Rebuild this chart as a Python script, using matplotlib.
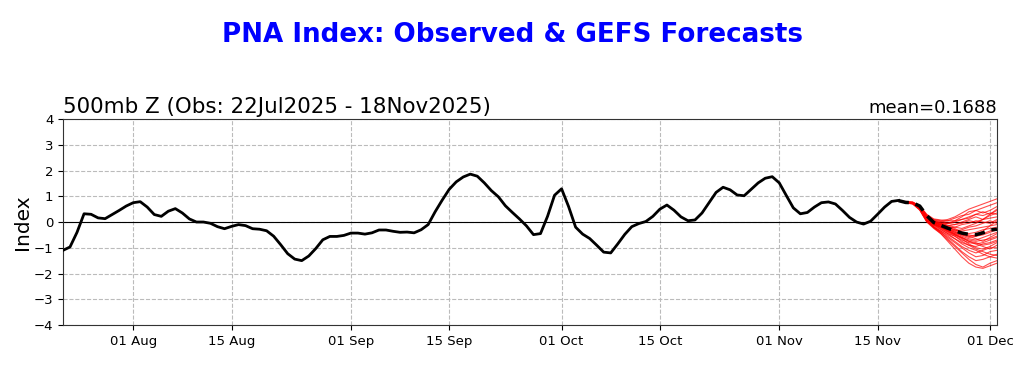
import numpy as np
import pandas as pd
import matplotlib
matplotlib.use("Agg")
import matplotlib.pyplot as plt
import matplotlib.dates as mdates

# ---- data ----
obs_start = "2025-07-22"
obs_values = [
    -1.10, -0.97, -0.40, 0.32, 0.30, 0.16, 0.13, 0.29, 0.45, 0.62,
    0.75, 0.79, 0.58, 0.29, 0.22, 0.42, 0.52, 0.35, 0.12, 0.00,
    0.00, -0.05, -0.18, -0.26, -0.17, -0.10, -0.14, -0.26, -0.28, -0.34,
    -0.55, -0.88, -1.23, -1.44, -1.50, -1.32, -1.03, -0.69, -0.56, -0.56,
    -0.52, -0.43, -0.43, -0.47, -0.42, -0.31, -0.31, -0.36, -0.40, -0.39,
    -0.42, -0.30, -0.10, 0.40, 0.85, 1.27, 1.56, 1.75, 1.86, 1.78,
    1.52, 1.22, 0.98, 0.63, 0.37, 0.12, -0.15, -0.49, -0.45, 0.22,
    1.04, 1.29, 0.60, -0.20, -0.47, -0.64, -0.90, -1.17, -1.20, -0.85,
    -0.48, -0.18, -0.06, 0.02, 0.22, 0.50, 0.66, 0.46, 0.20, 0.05,
    0.08, 0.35, 0.75, 1.15, 1.35, 1.25, 1.05, 1.02, 1.27, 1.52,
    1.70, 1.76, 1.52, 1.03, 0.55, 0.32, 0.37, 0.58, 0.75, 0.78,
    0.70, 0.45, 0.18, 0.00, -0.08, 0.03, 0.30, 0.58, 0.80, 0.84,
]

fc_start = "2025-11-18"
fc_mean = [0.83, 0.76, 0.75, 0.62, 0.25, -0.02, -0.13, -0.24, -0.34, -0.43,
           -0.48, -0.49, -0.42, -0.31, -0.28]

members = [
    [0.83, 0.80, 0.78, 0.62, 0.25, 0.10, 0.05, 0.10, 0.20, 0.35, 0.50, 0.60, 0.70, 0.80, 0.90],
    [0.83, 0.78, 0.76, 0.60, 0.20, 0.05, 0.00, 0.05, 0.15, 0.25, 0.30, 0.45, 0.55, 0.65, 0.75],
    [0.83, 0.77, 0.75, 0.58, 0.22, 0.00, -0.05, -0.05, 0.05, 0.20, 0.40, 0.45, 0.35, 0.45, 0.60],
    [0.83, 0.76, 0.74, 0.55, 0.18, -0.02, -0.10, -0.05, 0.00, 0.10, 0.15, 0.30, 0.40, 0.30, 0.45],
    [0.83, 0.76, 0.73, 0.57, 0.15, -0.05, -0.12, -0.15, -0.10, 0.00, 0.10, 0.20, 0.10, 0.25, 0.35],
    [0.83, 0.75, 0.74, 0.62, 0.28, 0.08, 0.02, -0.05, -0.10, -0.05, 0.05, 0.00, 0.10, 0.15, 0.20],
    [0.83, 0.77, 0.75, 0.56, 0.12, -0.10, -0.15, -0.25, -0.20, -0.10, -0.05, 0.05, 0.00, -0.05, 0.10],
    [0.83, 0.76, 0.72, 0.52, 0.10, -0.12, -0.20, -0.30, -0.35, -0.30, -0.20, -0.15, -0.05, 0.05, -0.05],
    [0.83, 0.75, 0.73, 0.58, 0.20, 0.00, -0.10, -0.20, -0.30, -0.35, -0.30, -0.25, -0.20, -0.15, -0.10],
    [0.83, 0.77, 0.76, 0.60, 0.24, 0.05, -0.05, -0.15, -0.25, -0.40, -0.45, -0.40, -0.30, -0.25, -0.20],
    [0.83, 0.76, 0.74, 0.56, 0.15, -0.05, -0.18, -0.30, -0.40, -0.45, -0.50, -0.55, -0.45, -0.35, -0.25],
    [0.83, 0.75, 0.73, 0.54, 0.12, -0.08, -0.20, -0.35, -0.45, -0.50, -0.60, -0.55, -0.50, -0.40, -0.30],
    [0.83, 0.76, 0.75, 0.58, 0.18, -0.02, -0.12, -0.25, -0.40, -0.55, -0.65, -0.70, -0.60, -0.50, -0.40],
    [0.83, 0.78, 0.76, 0.60, 0.22, 0.02, -0.08, -0.20, -0.35, -0.50, -0.55, -0.65, -0.75, -0.60, -0.45],
    [0.83, 0.77, 0.74, 0.55, 0.14, -0.08, -0.22, -0.38, -0.50, -0.60, -0.70, -0.75, -0.70, -0.65, -0.55],
    [0.83, 0.76, 0.73, 0.52, 0.08, -0.15, -0.30, -0.45, -0.55, -0.70, -0.80, -0.85, -0.80, -0.70, -0.60],
    [0.83, 0.75, 0.72, 0.50, 0.05, -0.20, -0.35, -0.50, -0.65, -0.80, -0.90, -0.95, -0.85, -0.80, -0.70],
    [0.83, 0.76, 0.74, 0.56, 0.16, -0.05, -0.20, -0.35, -0.50, -0.65, -0.85, -1.00, -1.05, -0.95, -0.80],
    [0.83, 0.77, 0.75, 0.58, 0.20, 0.00, -0.15, -0.30, -0.45, -0.60, -0.75, -0.85, -0.95, -1.05, -0.90],
    [0.83, 0.75, 0.72, 0.50, 0.06, -0.18, -0.35, -0.55, -0.75, -0.95, -1.10, -1.20, -1.10, -1.00, -1.00],
    [0.83, 0.74, 0.71, 0.48, 0.02, -0.22, -0.40, -0.60, -0.80, -1.00, -1.20, -1.35, -1.30, -1.15, -1.10],
    [0.83, 0.76, 0.73, 0.54, 0.12, -0.10, -0.28, -0.45, -0.65, -0.85, -1.00, -1.10, -1.25, -1.35, -1.25],
    [0.83, 0.75, 0.72, 0.50, 0.04, -0.20, -0.40, -0.65, -0.90, -1.15, -1.35, -1.50, -1.45, -1.35, -1.40],
    [0.83, 0.74, 0.70, 0.46, 0.00, -0.25, -0.45, -0.70, -0.95, -1.20, -1.45, -1.65, -1.75, -1.60, -1.50],
    [0.83, 0.75, 0.71, 0.48, 0.03, -0.22, -0.45, -0.75, -1.05, -1.35, -1.60, -1.75, -1.80, -1.70, -1.60],
    [0.83, 0.77, 0.75, 0.59, 0.22, 0.04, -0.05, -0.12, -0.20, -0.25, -0.15, -0.05, 0.10, 0.30, 0.50],
    [0.83, 0.76, 0.74, 0.57, 0.18, 0.00, -0.10, -0.20, -0.30, -0.45, -0.55, -0.50, -0.35, -0.15, 0.05],
    [0.83, 0.75, 0.73, 0.53, 0.10, -0.12, -0.25, -0.40, -0.55, -0.75, -0.90, -1.05, -1.15, -1.25, -1.30],
    [0.83, 0.76, 0.74, 0.55, 0.14, -0.06, -0.18, -0.32, -0.48, -0.62, -0.75, -0.80, -0.90, -0.85, -0.75],
    [0.83, 0.78, 0.77, 0.63, 0.30, 0.12, 0.08, 0.05, 0.05, 0.10, 0.20, 0.30, 0.25, 0.35, 0.30],
]

main_title = "PNA Index: Observed & GEFS Forecasts"
sub_left = "500mb Z (Obs: 22Jul2025 - 18Nov2025)"
sub_right = "mean=0.1688"
y_label = "Index"
y_ticks = [-4, -3, -2, -1, 0, 1, 2, 3, 4]

# ---- plot ----
obs_dates = pd.date_range(obs_start, periods=len(obs_values), freq="D")
fc_dates = pd.date_range(fc_start, periods=len(fc_mean), freq="D")

fig = plt.figure(figsize=(10.24, 3.67), dpi=100)
ax = fig.add_axes([0.0615, 0.1144, 0.9121, 0.5613])

for m in members:
    ax.plot(fc_dates, m, color="red", lw=0.8, alpha=0.7, zorder=3)
ax.plot(obs_dates, obs_values, color="black", lw=2.0, zorder=4)
ax.plot(fc_dates, fc_mean, color="black", lw=2.5, ls=(0, (3, 2)), zorder=5)

ax.axhline(0, color="black", lw=0.8, zorder=2)
ax.set_ylim(-4, 4)
ax.set_yticks(y_ticks)
ax.set_xlim(pd.Timestamp("2025-07-22"), pd.Timestamp("2025-12-02"))
ax.xaxis.set_major_locator(mdates.DayLocator(bymonthday=[1, 15]))
ax.xaxis.set_major_formatter(mdates.DateFormatter("%d %b"))
ax.grid(True, color="#bbbbbb", ls="--", lw=0.8)
ax.tick_params(labelsize=9.5)
for s in ax.spines.values():
    s.set_color("#333333")
ax.set_ylabel(y_label, fontsize=14.5, labelpad=1)

ax.set_title(sub_left, loc="left", fontsize=15.4, pad=4)
ax.set_title(sub_right, loc="right", fontsize=13, pad=4)
fig.text(0.5, 0.905, main_title, ha="center", va="center", color="blue",
         fontsize=18.8, fontweight="bold")

fig.savefig("out.png", dpi=100)
